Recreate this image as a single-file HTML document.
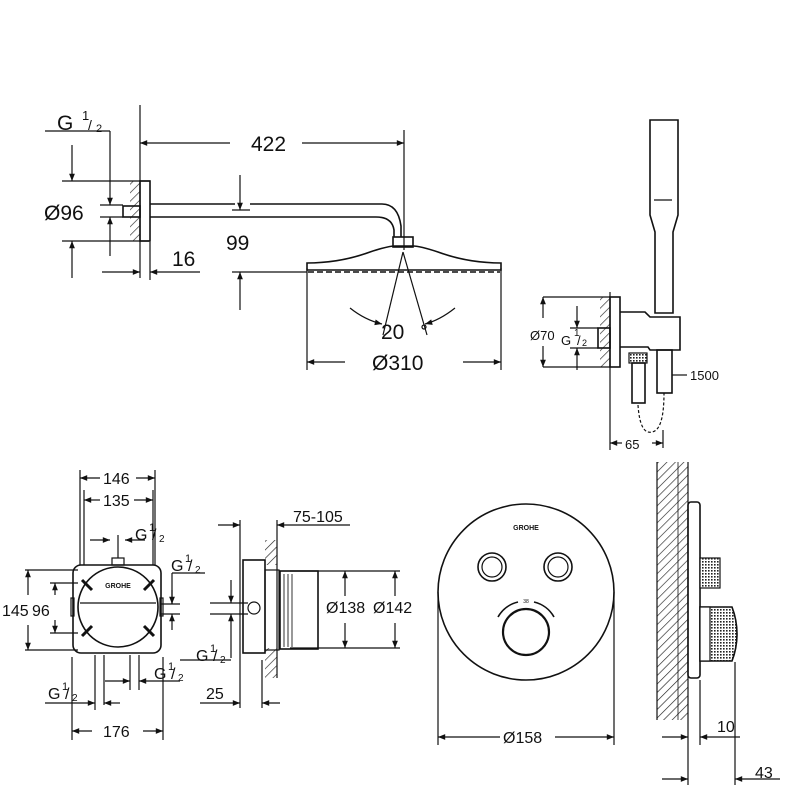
<!DOCTYPE html>
<html><head><meta charset="utf-8"><style>
html,body{margin:0;padding:0;background:#fff}
svg{display:block}
text{font-family:"Liberation Sans",sans-serif;fill:#111}
</style></head><body>
<svg width="800" height="800" viewBox="0 0 800 800" xmlns="http://www.w3.org/2000/svg">
<defs>
<marker id="a" viewBox="0 0 10 10" refX="10" refY="5" markerWidth="8" markerHeight="6" orient="auto-start-reverse"><path d="M0,1 L10,5 L0,9z" fill="#111"/></marker>
<pattern id="h" width="6" height="6" patternUnits="userSpaceOnUse" patternTransform="rotate(45)"><line x1="0" y1="0" x2="0" y2="6" stroke="#222" stroke-width="1.3"/></pattern>
<pattern id="k" width="3" height="3" patternUnits="userSpaceOnUse"><rect width="3" height="3" fill="#fff"/><rect width="1.6" height="1.6" fill="#222"/></pattern>
</defs>
<g stroke="#111" stroke-width="1.2" fill="none">
<!-- TOP LEFT: head shower -->
<line x1="140" y1="105" x2="140" y2="278"/><line x1="404" y1="130" x2="404" y2="250"/>
<line x1="140" y1="143" x2="230" y2="143" marker-start="url(#a)"/><line x1="302" y1="143" x2="404" y2="143" marker-end="url(#a)"/>
<line x1="45" y1="131" x2="110" y2="131"/><line x1="110" y1="131" x2="110" y2="205" marker-end="url(#a)"/><line x1="110" y1="256" x2="110" y2="217" marker-end="url(#a)"/>
<line x1="72" y1="145" x2="72" y2="181" marker-end="url(#a)"/><line x1="72" y1="278" x2="72" y2="241" marker-end="url(#a)"/>
<line x1="62" y1="181" x2="150" y2="181"/><line x1="62" y1="241" x2="150" y2="241"/>
<line x1="100" y1="205" x2="123" y2="205"/><line x1="100" y1="217" x2="123" y2="217"/>
<rect x="130" y="181" width="10" height="60" fill="url(#h)" stroke="none"/>
<rect x="140" y="181" width="10" height="60" stroke-width="1.6"/>
<rect x="123" y="206" width="17" height="11" stroke-width="1.6"/>
<path d="M150 204 H235 M250 204 H382 Q398 204 401 226 V237 M150 217 H250 M250 217 H376 Q392 217 394 230 V237" stroke-width="1.6"/>
<rect x="393" y="237" width="20" height="10" stroke-width="1.6"/>
<path d="M307 263 Q340 263 370 252 Q388 246 395 246 H413 Q420 246 438 252 Q468 263 501 263 V270 H307z" stroke-width="1.6"/>
<line x1="308" y1="272" x2="500" y2="272" stroke-dasharray="6 3" stroke-width="1.6"/>
<line x1="102" y1="272" x2="140" y2="272" marker-end="url(#a)"/><line x1="200" y1="272" x2="150" y2="272" marker-end="url(#a)"/><line x1="150" y1="242" x2="150" y2="280"/>
<line x1="240" y1="175" x2="240" y2="210" marker-end="url(#a)"/><line x1="232" y1="210" x2="250" y2="210"/>
<line x1="240" y1="310" x2="240" y2="272" marker-end="url(#a)"/><line x1="232" y1="272" x2="307" y2="272"/>
<line x1="403" y1="252" x2="383" y2="335"/><line x1="403" y1="252" x2="427" y2="335"/>
<path d="M350 308 Q365 320 382 324" marker-end="url(#a)"/><path d="M455 308 Q440 320 425 324" marker-end="url(#a)"/>
<circle cx="424" cy="327" r="2"/>
<line x1="307" y1="268" x2="307" y2="370"/><line x1="501" y1="268" x2="501" y2="370"/>
<line x1="345" y1="362" x2="307" y2="362" marker-end="url(#a)"/><line x1="463" y1="362" x2="501" y2="362" marker-end="url(#a)"/>
<!-- hand shower -->
<path d="M650 120 H678 V215 L673 232 V313 H655 V232 L650 215z" stroke-width="1.6"/>
<line x1="654" y1="200" x2="672" y2="200"/>
<rect x="600" y="297" width="10" height="70" fill="url(#h)" stroke="none"/>
<line x1="610" y1="292" x2="610" y2="450"/>
<rect x="610" y="297" width="10" height="70" stroke-width="1.6"/>
<rect x="598" y="328" width="12" height="20" stroke-width="1.6"/>
<path d="M620 312 H645 L650 317 H680 V350 H650 L648 347 H620" stroke-width="1.6"/>
<rect x="629" y="353" width="18" height="10" fill="url(#k)"/>
<rect x="632" y="363" width="13" height="40" stroke-width="1.6"/>
<rect x="657" y="350" width="15" height="43" stroke-width="1.6"/>
<path d="M638 405 Q640 435 652 432 Q664 430 664 393" stroke-dasharray="3 2"/>
<line x1="543" y1="297" x2="610" y2="297"/><line x1="543" y1="367" x2="610" y2="367"/>
<line x1="543" y1="318" x2="543" y2="297" marker-end="url(#a)"/><line x1="543" y1="346" x2="543" y2="367" marker-end="url(#a)"/>
<line x1="577" y1="306" x2="577" y2="328" marker-end="url(#a)"/><line x1="577" y1="370" x2="577" y2="348" marker-end="url(#a)"/>
<line x1="570" y1="328" x2="598" y2="328"/><line x1="570" y1="348" x2="598" y2="348"/>
<line x1="672" y1="375" x2="687" y2="375"/>
<line x1="663" y1="430" x2="663" y2="448"/>
<line x1="622" y1="443" x2="610" y2="443" marker-end="url(#a)"/><line x1="652" y1="443" x2="663" y2="443" marker-end="url(#a)"/>
<!-- bottom-left front box -->
<line x1="80" y1="470" x2="80" y2="565"/><line x1="155" y1="470" x2="155" y2="565"/>
<line x1="84" y1="490" x2="84" y2="565"/><line x1="153" y1="490" x2="153" y2="565"/>
<line x1="100" y1="478" x2="80" y2="478" marker-end="url(#a)"/><line x1="136" y1="478" x2="155" y2="478" marker-end="url(#a)"/>
<line x1="100" y1="500" x2="84" y2="500" marker-end="url(#a)"/><line x1="134" y1="500" x2="153" y2="500" marker-end="url(#a)"/>
<rect x="73" y="565" width="88" height="88" rx="8" stroke-width="1.6"/>
<circle cx="118" cy="607" r="40" stroke-width="1.6"/>
<line x1="80" y1="603" x2="156" y2="603"/>
<path d="M82 580 L92 590 M154 580 L144 590 M82 636 L92 626 M154 636 L144 626" stroke-width="3"/>
<rect x="112" y="558" width="12" height="7"/><line x1="118" y1="535" x2="118" y2="558"/>
<line x1="90" y1="540" x2="110" y2="540" marker-end="url(#a)"/><line x1="145" y1="540" x2="125" y2="540" marker-end="url(#a)"/>
<rect x="71" y="598" width="3" height="18"/><rect x="160" y="598" width="3" height="18"/>
<line x1="25" y1="570" x2="78" y2="570"/><line x1="25" y1="650" x2="78" y2="650"/>
<line x1="28" y1="595" x2="28" y2="570" marker-end="url(#a)"/><line x1="28" y1="625" x2="28" y2="650" marker-end="url(#a)"/>
<line x1="50" y1="583" x2="78" y2="583"/><line x1="50" y1="633" x2="78" y2="633"/>
<line x1="55" y1="595" x2="55" y2="583" marker-end="url(#a)"/><line x1="55" y1="620" x2="55" y2="633" marker-end="url(#a)"/>
<line x1="172" y1="573" x2="205" y2="573"/><line x1="172" y1="573" x2="172" y2="604"/>
<line x1="160" y1="604" x2="180" y2="604"/><line x1="160" y1="614" x2="180" y2="614"/>
<line x1="172" y1="590" x2="172" y2="604" marker-end="url(#a)"/><line x1="172" y1="630" x2="172" y2="614" marker-end="url(#a)"/>
<line x1="95" y1="655" x2="95" y2="710"/><line x1="104" y1="655" x2="104" y2="705"/>
<line x1="130" y1="655" x2="130" y2="690"/><line x1="139" y1="655" x2="139" y2="690"/>
<line x1="72" y1="657" x2="72" y2="740"/><line x1="163" y1="657" x2="163" y2="740"/>
<line x1="45" y1="703" x2="95" y2="703" marker-end="url(#a)"/><line x1="120" y1="703" x2="104" y2="703" marker-end="url(#a)"/>
<line x1="105" y1="681" x2="130" y2="681" marker-end="url(#a)"/><line x1="180" y1="681" x2="139" y2="681" marker-end="url(#a)"/>
<line x1="92" y1="731" x2="72" y2="731" marker-end="url(#a)"/><line x1="143" y1="731" x2="163" y2="731" marker-end="url(#a)"/>
<!-- side box -->
<line x1="240" y1="520" x2="240" y2="708"/>
<line x1="218" y1="525" x2="240" y2="525" marker-end="url(#a)"/>
<line x1="350" y1="525" x2="277" y2="525" marker-end="url(#a)"/><line x1="277" y1="520" x2="277" y2="678"/>
<rect x="265" y="540" width="12" height="25" fill="url(#h)" stroke="none"/>
<rect x="265" y="648" width="12" height="30" fill="url(#h)" stroke="none"/>
<rect x="243" y="560" width="22" height="93" stroke-width="1.6"/>
<rect x="265" y="570" width="14" height="80"/>
<rect x="280" y="571" width="38" height="78" stroke-width="1.6"/>
<path d="M284 574 V647 M288 574 V647 M292 574 V647" stroke="#555"/>
<circle cx="254" cy="608" r="6"/>
<line x1="210" y1="603" x2="248" y2="603"/><line x1="210" y1="614" x2="248" y2="614"/>
<line x1="231" y1="580" x2="231" y2="603" marker-end="url(#a)"/><line x1="231" y1="658" x2="231" y2="614" marker-end="url(#a)"/>
<line x1="180" y1="660" x2="231" y2="660"/>
<line x1="290" y1="571" x2="400" y2="571"/><line x1="290" y1="648" x2="400" y2="648"/>
<line x1="345" y1="596" x2="345" y2="571" marker-end="url(#a)"/><line x1="345" y1="623" x2="345" y2="648" marker-end="url(#a)"/>
<line x1="395" y1="596" x2="395" y2="571" marker-end="url(#a)"/><line x1="395" y1="623" x2="395" y2="648" marker-end="url(#a)"/>
<line x1="262" y1="660" x2="262" y2="708"/>
<line x1="200" y1="703" x2="240" y2="703" marker-end="url(#a)"/><line x1="280" y1="703" x2="262" y2="703" marker-end="url(#a)"/>
<!-- round plate -->
<circle cx="526" cy="592" r="88" stroke-width="1.6"/>
<circle cx="492" cy="567" r="14" stroke-width="1.6"/><circle cx="492" cy="567" r="10"/>
<circle cx="558" cy="567" r="14" stroke-width="1.6"/><circle cx="558" cy="567" r="10"/>
<circle cx="526" cy="632" r="23" stroke-width="2.2"/>
<path d="M498 617 A31 31 0 0 1 518 602 M534 602 A31 31 0 0 1 554 617" stroke-width="1.6"/>
<line x1="438" y1="592" x2="438" y2="745"/><line x1="614" y1="592" x2="614" y2="745"/>
<line x1="500" y1="737" x2="438" y2="737" marker-end="url(#a)"/><line x1="555" y1="737" x2="614" y2="737" marker-end="url(#a)"/>
<!-- right side -->
<rect x="657" y="462" width="31" height="258" fill="url(#h)" stroke="none"/>
<line x1="657" y1="462" x2="657" y2="720"/><line x1="678" y1="462" x2="678" y2="720" stroke-width="0.8"/>
<line x1="688" y1="462" x2="688" y2="785"/>
<rect x="688" y="502" width="12" height="176" rx="3" stroke-width="1.6"/>
<rect x="700" y="558" width="20" height="30" fill="url(#k)"/>
<path d="M700 607 H732 Q737 620 737 634 Q737 648 732 661 H700z" fill="url(#k)" stroke-width="1.6"/>
<rect x="700" y="607" width="10" height="54" fill="#fff"/>
<line x1="700" y1="680" x2="700" y2="745"/><line x1="735" y1="662" x2="735" y2="785"/>
<line x1="662" y1="737" x2="688" y2="737" marker-end="url(#a)"/><line x1="740" y1="737" x2="700" y2="737" marker-end="url(#a)"/>
<line x1="662" y1="779" x2="688" y2="779" marker-end="url(#a)"/><line x1="780" y1="779" x2="735" y2="779" marker-end="url(#a)"/>
</g>
<g font-size="21">
<text x="57" y="130">G</text><text x="82" y="120" font-size="13">1</text><text x="88" y="130" font-size="14">/</text><text x="96" y="132" font-size="11">2</text>
<text x="251" y="151">422</text>
<text x="44" y="220">Ø96</text>
<text x="172" y="266">16</text>
<text x="226" y="250">99</text>
<text x="381" y="339">20</text>
<text x="372" y="370">Ø310</text>
</g>
<g font-size="13">
<text x="530" y="340">Ø70</text><text x="561" y="345">G</text><text x="574" y="336" font-size="10">1</text><text x="577" y="345">/</text><text x="582" y="346" font-size="9">2</text>
<text x="690" y="380">1500</text><text x="625" y="449">65</text>
</g>
<g font-size="16">
<text x="103" y="484">146</text><text x="103" y="506">135</text>
<text x="135" y="540">G</text><text x="149" y="531" font-size="11">1</text><text x="152" y="540">/</text><text x="159" y="542" font-size="10">2</text>
<text x="171" y="571">G</text><text x="185" y="562" font-size="11">1</text><text x="188" y="571">/</text><text x="195" y="573" font-size="10">2</text>
<text x="2" y="616">145</text><text x="32" y="616">96</text>
<text x="154" y="679">G</text><text x="168" y="670" font-size="11">1</text><text x="171" y="679">/</text><text x="178" y="681" font-size="10">2</text>
<text x="48" y="699">G</text><text x="62" y="690" font-size="11">1</text><text x="65" y="699">/</text><text x="72" y="701" font-size="10">2</text>
<text x="103" y="737">176</text>
<text x="293" y="522">75-105</text>
<text x="196" y="661">G</text><text x="210" y="652" font-size="11">1</text><text x="213" y="661">/</text><text x="220" y="663" font-size="10">2</text>
<text x="206" y="699">25</text>
<text x="326" y="613">Ø138</text><text x="373" y="613">Ø142</text>
<text x="503" y="743">Ø158</text>
<text x="717" y="732">10</text><text x="755" y="778">43</text>
</g>
<text x="526" y="530" font-size="7" text-anchor="middle" font-weight="bold">GROHE</text>
<text x="526" y="603" font-size="5" text-anchor="middle">38</text>
<text x="118" y="588" font-size="7" text-anchor="middle" font-weight="bold">GROHE</text>
</svg>
</body></html>
